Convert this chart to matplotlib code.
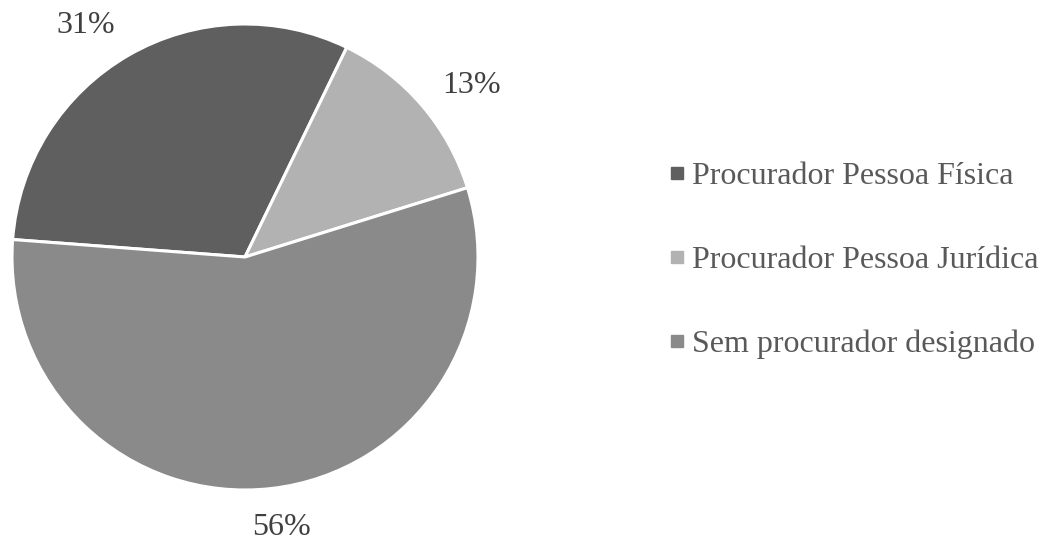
import matplotlib.pyplot as plt
from matplotlib.lines import Line2D

categorias = ["Procurador Pessoa Física", "Procurador Pessoa Jurídica", "Sem procurador designado"]
valores = [31, 13, 56]
cores = ["#5f5f5f", "#b2b2b2", "#8a8a8a"]

# posição dos rótulos (unidades do raio, linha de base do texto)
pos_rotulos = [(-0.685, 0.961), (0.974, 0.704), (0.155, -1.193)]

plt.rcParams["font.family"] = ["Liberation Serif", "DejaVu Serif"]

fig = plt.figure(figsize=(10.57, 5.40), dpi=100)
cx, cy, r = 245, 257, 233
ax = fig.add_axes([(cx - r) / 1057, (540 - cy - r) / 540, 2 * r / 1057, 2 * r / 540])

wedges, _ = ax.pie(
    valores,
    colors=cores,
    startangle=175.7,
    counterclock=False,
    radius=1,
    wedgeprops={"edgecolor": "white", "linewidth": 2.2},
)
ax.set_xlim(-1, 1)
ax.set_ylim(-1, 1)

for v, (x, y) in zip(valores, pos_rotulos):
    ax.text(x, y, f"{v}%", ha="center", va="baseline", fontsize=23,
            color="#404040", clip_on=False)

handles = [Line2D([], [], marker="s", linestyle="none", markersize=8.5,
                  markerfacecolor=c, markeredgecolor=c) for c in cores]
fig.legend(handles, categorias, loc="upper left", bbox_to_anchor=(668 / 1057, 1 - 162 / 540),
           frameon=False, fontsize=23, labelcolor="#595959",
           handlelength=0.55, handletextpad=0.2, labelspacing=1.7,
           borderpad=0, borderaxespad=0)

plt.savefig("out.png", dpi=100)
